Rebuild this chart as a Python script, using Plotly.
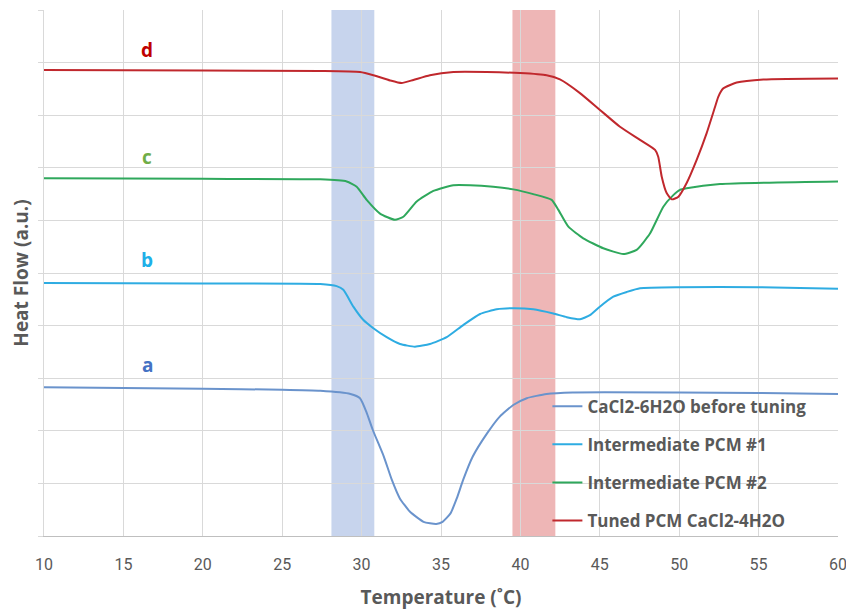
import plotly.graph_objects as go

# ---- data ----
a_x = [10, 20, 25, 27.4, 29.3, 29.9, 30.3, 30.7, 31.4, 31.9, 32.4, 33.05, 33.9, 34.7, 35.1, 35.6, 36.0,
       36.4, 37.0, 37.9, 38.7, 39.55, 40.4, 41.65, 43.3, 50, 55, 60]
a_y = [2.83, 2.80, 2.78, 2.76, 2.70, 2.62, 2.36, 2.02, 1.51, 1.07, 0.72, 0.46, 0.27, 0.23, 0.27, 0.43, 0.72,
       1.07, 1.51, 1.95, 2.27, 2.49, 2.62, 2.70, 2.73, 2.73, 2.72, 2.70]

b_x = [10, 20, 27.4, 28.43, 28.85, 29.48, 30.1, 30.74, 31.58, 32.42, 33.36, 34.3, 35.36, 36.4, 37.46, 38.51,
       39.55, 40.81, 42.07, 42.92, 43.75, 44.38, 45.0, 45.85, 46.7, 47.53, 50, 55, 60]
b_y = [4.81, 4.80, 4.79, 4.75, 4.68, 4.36, 4.11, 3.95, 3.78, 3.65, 3.60, 3.65, 3.78, 4.01, 4.22, 4.31,
       4.33, 4.31, 4.23, 4.16, 4.12, 4.20, 4.36, 4.55, 4.64, 4.71, 4.73, 4.73, 4.70]

c_x = [10, 20, 27.4, 29.06, 29.69, 30.32, 31.16, 32.1, 32.63, 33.47, 34.52, 35.78, 36.83, 38.29, 39.55,
       40.81, 41.97, 42.39, 43.02, 43.96, 45.22, 46.48, 47.32, 48.16, 49.0, 49.63, 50.05, 50.47, 52.57, 60]
c_y = [6.80, 6.79, 6.78, 6.74, 6.64, 6.39, 6.13, 6.01, 6.07, 6.36, 6.56, 6.67, 6.67, 6.64, 6.59,
       6.50, 6.39, 6.20, 5.88, 5.66, 5.47, 5.36, 5.44, 5.75, 6.26, 6.48, 6.58, 6.61, 6.69, 6.74]

d_x = [10, 20, 27.4, 29.9, 30.74, 31.79, 32.52, 33.26, 34.3, 35.78, 37.88, 39.97, 41.65, 42.49, 43.75,
       45.01, 46.27, 47.53, 48.48, 48.68, 48.9, 49.21, 49.53, 49.95, 50.47, 51.1, 51.73, 52.26, 52.46,
       52.78, 53.62, 55.3, 60]
d_y = [8.86, 8.85, 8.84, 8.82, 8.76, 8.66, 8.61, 8.67, 8.76, 8.82, 8.82, 8.80, 8.76, 8.68, 8.42,
       8.10, 7.78, 7.53, 7.34, 7.21, 6.83, 6.52, 6.40, 6.45, 6.71, 7.15, 7.66, 8.16, 8.35,
       8.51, 8.62, 8.68, 8.70]

series_names = ["CaCl2-6H2O before tuning", "Intermediate PCM #1",
                "Intermediate PCM #2", "Tuned PCM CaCl2-4H2O"]
series_colors = ["#6a93cc", "#2eace2", "#2fa85c", "#c0282d"]

label_text = ["a", "b", "c", "d"]
label_x = [16.5, 16.5, 16.5, 16.5]
label_y = [3.25, 5.25, 7.21, 9.24]
label_colors = ["#4472c4", "#1fb0e8", "#70ad47", "#c00000"]

blue_band = [28.1, 30.8]
red_band = [39.5, 42.2]

x_ticks = [10, 15, 20, 25, 30, 35, 40, 45, 50, 55, 60]

# ---- figure ----
fig = go.Figure()
for i, (xs, ys, name, col) in enumerate(zip([a_x, b_x, c_x, d_x], [a_y, b_y, c_y, d_y],
                                            series_names, series_colors)):
    fig.add_trace(go.Scatter(x=xs, y=ys, mode="lines", name="<b>%s</b>" % name, legendgroup="g%d" % i,
                             line=dict(color=col, width=2, shape="spline", smoothing=0.5)))

fig.add_shape(type="rect", xref="x", yref="y", x0=blue_band[0], x1=blue_band[1], y0=0, y1=10,
              fillcolor="rgba(68,114,196,0.30)", line_width=0, layer="below")
fig.add_shape(type="rect", xref="x", yref="y", x0=red_band[0], x1=red_band[1], y0=0, y1=10,
              fillcolor="rgba(205,40,40,0.34)", line_width=0, layer="below")

for t, lx, ly, lc in zip(label_text, label_x, label_y, label_colors):
    fig.add_annotation(x=lx, y=ly, text="<b>%s</b>" % t, showarrow=False,
                       font=dict(size=19, color=lc, family="Open Sans, sans-serif"))

fig.update_layout(
    width=854, height=609,
    margin=dict(l=36, r=24, t=2, b=81),
    paper_bgcolor="white", plot_bgcolor="white",
    font=dict(family="Open Sans, sans-serif", color="#595959"),
    showlegend=True,
    legend=dict(x=0.634, y=0.28, xanchor="left", yanchor="top", bgcolor="rgba(0,0,0,0)",
                font=dict(size=17, color="#595959", family="Open Sans, sans-serif"),
                tracegroupgap=13, itemwidth=30),
)
fig.update_xaxes(range=[10, 60], tickvals=x_ticks, showgrid=True, gridcolor="#d9d9d9", gridwidth=1,
                 showline=True, linecolor="#bfbfbf", linewidth=1, zeroline=False, automargin=False,
                 ticks="", ticklabelstandoff=14,
                 tickfont=dict(size=16, color="#595959", family="Liberation Sans Narrow, Roboto, sans-serif"),
                 title=dict(text="<b>Temperature (˚C)</b>", font=dict(size=19, color="#595959"), standoff=17))
fig.update_yaxes(range=[0, 10], dtick=1, showticklabels=False, showgrid=True, gridcolor="#d9d9d9",
                 gridwidth=1, showline=True, linecolor="#d9d9d9", zeroline=False, automargin=False,
                 ticks="outside", ticklen=5, tickcolor="#d9d9d9",
                 title=dict(text="<b>Heat Flow (a.u.)</b>", font=dict(size=19, color="#595959"), standoff=4))

fig.write_html("out.html")
